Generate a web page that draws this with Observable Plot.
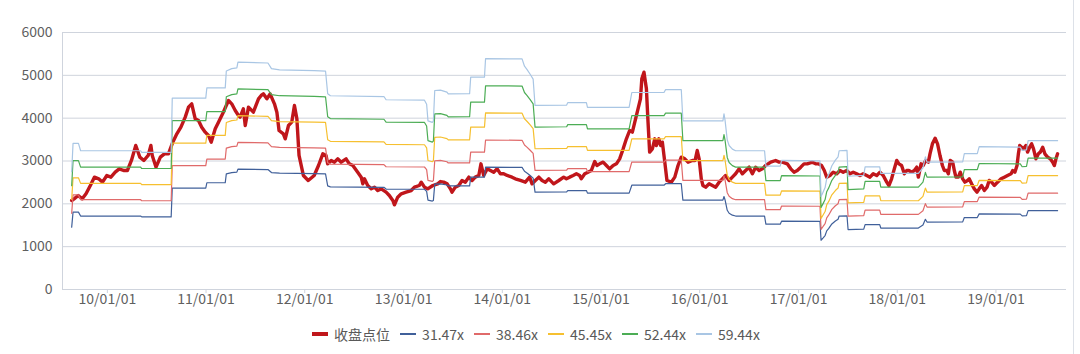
<!DOCTYPE html>
<html><head><meta charset="utf-8">
<script src="https://cdn.jsdelivr.net/npm/d3@7"></script>
<script src="https://cdn.jsdelivr.net/npm/@observablehq/plot@0.6"></script>
<style>
body{margin:0;background:#fff;font-family:"Noto Sans CJK SC","Noto Sans",sans-serif;}
#wrap{position:relative;width:1080px;height:354px;overflow:hidden;}
#edge{position:absolute;left:1073px;top:0;width:1px;height:354px;background:#dde1e8;}
.legend{display:flex;justify-content:center;align-items:center;gap:10px;font-size:14px;color:#595959;margin-top:11px;height:22px;padding-right:8px;}
.item{display:flex;align-items:center;gap:6px;}
.sw{display:inline-block;width:16px;}
</style></head><body><div id="wrap"><div id="chart"></div><div id="edge"></div></div>
<script>
const closeLabel = "收盘点位";
const closeColor = "#c0161b";
const closeDates = ["2009-08-22","2009-08-31","2009-09-15","2009-09-30","2009-10-14","2009-10-30","2009-11-14","2009-11-30","2009-12-14","2009-12-30",
"2010-01-14","2010-01-30","2010-02-14","2010-03-02","2010-03-16","2010-03-31","2010-04-16","2010-05-01","2010-05-16","2010-06-01","2010-06-11","2010-06-16","2010-06-30","2010-07-16","2010-07-31","2010-08-15","2010-08-31","2010-09-15","2010-09-30","2010-10-16","2010-10-28","2010-11-09","2010-11-22","2010-12-04","2010-12-16","2010-12-29",
"2011-01-10","2011-01-20","2011-02-04","2011-02-16","2011-03-06","2011-03-25","2011-04-06","2011-04-19","2011-05-01","2011-05-07","2011-05-19","2011-05-26","2011-06-07","2011-06-25","2011-07-14","2011-07-24","2011-08-01","2011-08-14","2011-08-26","2011-09-11","2011-09-20","2011-09-28","2011-10-14","2011-10-21","2011-11-02","2011-11-14","2011-11-24","2011-12-03","2011-12-11","2011-12-27",
"2012-01-14","2012-02-05","2012-02-21","2012-03-08","2012-03-20","2012-03-26","2012-04-08","2012-04-20","2012-05-02","2012-05-15","2012-06-02","2012-06-14","2012-06-27","2012-07-15","2012-07-28","2012-08-03","2012-08-09","2012-08-21","2012-09-03","2012-09-15","2012-09-27","2012-10-10","2012-10-28","2012-11-09","2012-11-22","2012-11-28","2012-12-10","2012-12-23",
"2013-01-10","2013-01-29","2013-02-10","2013-02-28","2013-03-07","2013-03-19","2013-03-31","2013-04-19","2013-05-07","2013-05-17","2013-05-29","2013-06-11","2013-06-23","2013-06-29","2013-07-11","2013-07-24","2013-08-05","2013-08-17","2013-08-30","2013-09-11","2013-09-23","2013-10-06","2013-10-14","2013-10-24","2013-11-06","2013-11-18","2013-11-30","2013-12-13","2013-12-25",
"2014-01-06","2014-01-19","2014-02-06","2014-02-18","2014-03-09","2014-03-27","2014-04-12","2014-04-21","2014-05-03","2014-05-16","2014-05-28","2014-06-09","2014-06-22","2014-07-10","2014-07-29","2014-08-16","2014-08-26","2014-09-07","2014-09-20","2014-10-02","2014-10-14","2014-10-20","2014-11-02","2014-11-14","2014-11-26","2014-12-09","2014-12-17","2014-12-27",
"2015-01-09","2015-01-21","2015-02-02","2015-02-15","2015-02-27","2015-03-11","2015-03-24","2015-04-05","2015-04-17","2015-04-27","2015-05-06","2015-05-18","2015-05-27","2015-06-01","2015-06-09","2015-06-18","2015-06-24","2015-06-30","2015-07-10","2015-07-19","2015-07-25","2015-08-03","2015-08-10","2015-08-16","2015-08-25","2015-09-02","2015-09-18","2015-10-01","2015-10-13","2015-10-25","2015-11-07","2015-11-19","2015-12-05","2015-12-15","2015-12-23","2015-12-30",
"2016-01-07","2016-01-13","2016-01-23","2016-02-05","2016-02-17","2016-02-29","2016-03-13","2016-03-25","2016-04-06","2016-04-19","2016-05-01","2016-05-13","2016-05-26","2016-06-07","2016-06-19","2016-07-02","2016-07-14","2016-07-26","2016-08-08","2016-08-20","2016-09-01","2016-09-20","2016-10-08","2016-10-21","2016-11-02","2016-11-20","2016-12-03","2016-12-15","2016-12-27",
"2017-01-09","2017-01-21","2017-02-02","2017-02-21","2017-03-05","2017-03-15","2017-03-27","2017-04-06","2017-04-15","2017-04-27","2017-05-09","2017-05-22","2017-06-03","2017-06-15","2017-06-28","2017-07-10","2017-07-22","2017-08-04","2017-08-16","2017-08-28","2017-09-10","2017-09-22","2017-10-04","2017-10-17","2017-10-29","2017-11-10","2017-11-23","2017-12-01","2017-12-11","2017-12-21","2017-12-30",
"2018-01-07","2018-01-17","2018-01-27","2018-02-05","2018-02-13","2018-02-23","2018-03-05","2018-03-14","2018-03-20","2018-03-30","2018-04-07","2018-04-16","2018-04-26","2018-05-02","2018-05-11","2018-05-21","2018-05-30","2018-06-08","2018-06-17","2018-06-24","2018-07-04","2018-07-09","2018-07-16","2018-07-25","2018-07-31","2018-08-06","2018-08-15","2018-08-22","2018-08-31","2018-09-08","2018-09-18","2018-09-24","2018-10-03","2018-10-13","2018-10-23","2018-10-31","2018-11-09","2018-11-19","2018-11-29","2018-12-07","2018-12-16","2018-12-26",
"2019-01-07","2019-01-20","2019-02-01","2019-02-13","2019-02-26","2019-03-04","2019-03-12","2019-03-20","2019-03-25","2019-03-30","2019-04-06","2019-04-13","2019-04-22","2019-04-28","2019-05-06","2019-05-13","2019-05-20","2019-05-29","2019-06-07","2019-06-14","2019-06-23","2019-07-01","2019-07-11","2019-07-21","2019-07-30","2019-08-05","2019-08-11","2019-08-17"];
const closeValues = [2078,2117,2195,2117,2234,2428,2623,2584,2506,2662,
2623,2739,2817,2778,2778,3012,3362,3090,3012,3129,3362,3129,2856,3090,3167,3167,3440,3634,3790,4024,4257,4335,3985,3946,3790,3673,
3596,3440,3751,3907,4140,4413,4335,4179,4063,4024,4218,3829,4257,4140,4452,4530,4568,4452,4568,4335,4140,3712,3634,3518,3829,3907,4296,3985,3129,2662,
2545,2662,2895,3167,3129,2934,3012,2973,3051,2973,3051,2934,2895,2739,2623,2467,2584,2428,2350,2389,2311,2350,2273,2195,2078,1977,2156,2234,
2273,2311,2389,2428,2506,2389,2350,2428,2467,2520,2506,2467,2350,2273,2389,2428,2545,2506,2623,2545,2623,2662,2934,2662,2817,2778,2739,2817,2701,
2701,2662,2623,2584,2545,2506,2623,2467,2545,2623,2545,2506,2584,2467,2545,2623,2584,2623,2662,2701,2662,2584,2701,2739,2778,2989,2895,2934,
2973,2895,2817,2895,2934,3051,3284,3518,3712,3673,3907,4218,4452,4919,5074,4685,3907,3207,3284,3518,3362,3518,3362,3440,2973,2545,2506,2623,2895,3090,3051,2973,3012,3012,3245,3051,
2584,2428,2389,2467,2428,2389,2506,2584,2662,2545,2623,2701,2817,2701,2778,2856,2701,2856,2778,2817,2895,2973,3012,2973,2973,2934,2817,2739,2778,
2856,2934,2934,2973,2934,2934,2895,2778,2623,2662,2739,2701,2778,2739,2778,2701,2739,2701,2662,2701,2662,2623,2701,2662,2739,2662,2506,2428,2584,2817,3012,
2934,2895,2701,2778,2778,2739,2778,2856,2623,2934,2895,3012,2973,3167,3401,3533,3401,3129,2895,2778,2778,2701,3012,2973,2778,2623,2623,2739,2584,2506,2545,2584,2467,2350,2273,2350,2428,2311,2389,2545,2506,2428,
2506,2584,2623,2662,2701,2778,2739,2895,3167,3362,3323,3284,3362,3207,3323,3401,3284,3051,3167,3207,3323,3167,3090,3051,2973,2895,3051,3167];

const epsDates = ["2009-08-22","2009-08-27","2009-09-16","2009-09-24","2010-05-04","2010-05-08","2010-08-25","2010-08-29","2010-12-31","2011-01-04","2011-03-13","2011-03-17","2011-04-06","2011-04-25","2011-04-29","2011-08-18","2011-08-31","2011-09-30","2012-02-05","2012-03-18","2012-03-26","2012-04-05","2012-10-20","2012-10-28","2013-03-19","2013-03-27","2013-04-01","2013-04-17","2013-04-21","2013-04-26","2013-05-17","2013-06-10","2013-06-15","2013-09-02","2013-09-06","2013-10-27","2013-10-31","2014-03-15","2014-03-24","2014-04-02","2014-04-14","2014-04-25","2014-05-02","2014-08-27","2014-08-31","2014-11-08","2014-11-12","2015-04-15","2015-04-25","2015-08-22","2015-08-28","2015-10-25","2015-10-31","2016-03-27","2016-03-31","2016-04-04","2016-04-12","2016-04-19","2016-05-01","2016-05-13","2016-08-28","2016-09-02","2016-10-25","2016-10-30","2017-03-21","2017-03-25","2017-04-01","2017-04-09","2017-04-15","2017-04-22","2017-05-04","2017-05-17","2017-05-27","2017-05-31","2017-06-29","2017-07-03","2017-08-30","2017-09-04","2017-10-28","2017-11-01","2018-03-20","2018-04-06","2018-04-15","2018-04-21","2018-08-31","2018-09-06","2018-10-24","2018-10-31","2019-04-01","2019-04-08","2019-04-24","2019-04-30","2019-08-17"];
const epsValues = [46.24,57.39,57.39,54.50,54.50,53.86,53.86,75.15,75.15,79.19,79.19,85.80,86.75,87.07,89.29,88.97,86.75,86.27,85.95,85.80,76.90,76.10,75.79,74.52,74.36,72.77,66.25,65.62,66.10,78.17,78.33,77.53,76.83,76.90,83.41,83.41,90.72,90.56,87.70,86.43,84.53,82.62,72.29,72.45,73.40,73.40,71.50,71.50,77.38,77.38,78.49,78.49,66.25,66.25,68.96,66.41,58.79,56.56,55.13,54.50,54.50,48.46,48.46,50.68,50.52,36.54,38.13,40.04,43.53,45.12,48.62,50.84,52.11,54.50,54.66,44.49,44.80,48.14,48.14,45.60,45.60,47.82,52.11,50.05,50.14,53.38,53.38,56.09,55.93,54.66,54.81,58.47,58.47];

const multiples = [31.47, 38.46, 45.45, 52.44, 59.44];
const bandLabels = ["31.47x","38.46x","45.45x","52.44x","59.44x"];
const bandColors = ["#40609a","#e06a6a","#f6c030","#4cad55","#a9c6e4"];
const yTicks = [0,1000,2000,3000,4000,5000,6000];
const xTicks = ["2010-01-01","2011-01-01","2012-01-01","2013-01-01","2014-01-01","2015-01-01","2016-01-01","2017-01-01","2018-01-01","2019-01-01"];
const xDomain = ["2009-07-19","2019-09-19"];

const closeData = closeDates.map((d,i)=>({date:new Date(d), value:closeValues[i]}));
const bandData = multiples.flatMap((m,k)=>epsDates.map((d,i)=>({date:new Date(d), value:epsValues[i]*m, series:bandLabels[k]})));
const grid = "#cfd4dd";
const dom = xDomain.map(d=>new Date(d));

const chart = Plot.plot({
  width:1080, height:312,
  marginLeft:62, marginRight:14, marginTop:32, marginBottom:23,
  style:{fontSize:"14px", color:"#5f5f5f", fontFamily:'"Noto Sans CJK SC","Noto Sans",sans-serif', background:"transparent"},
  x:{type:"utc", domain:dom},
  y:{domain:[0,6000]},
  color:{domain:bandLabels, range:bandColors},
  marks:[
    Plot.gridY(yTicks,{stroke:grid, strokeOpacity:1}),
    Plot.ruleX([dom[0]],{y1:0, y2:6000, stroke:grid}),
    Plot.ruleY([0],{stroke:grid}),
    Plot.axisY(yTicks,{tickSize:0, tickPadding:10, label:null, tickFormat:d=>String(d)}),
    Plot.axisX(xTicks.map(d=>new Date(d)),{tickSize:4, tickPadding:1, stroke:grid, tickFormat:d3.utcFormat("%y/%m/%d"), label:null}),
    Plot.lineY(closeData,{x:"date", y:"value", stroke:closeColor, strokeWidth:3.4, strokeLinejoin:"round"}),
    Plot.lineY(bandData,{x:"date", y:"value", z:"series", stroke:"series", strokeWidth:1.2})
  ]
});
document.getElementById("chart").appendChild(chart);

const leg = document.createElement("div");
leg.className = "legend";
const items = [{label:closeLabel, color:closeColor, w:4}].concat(bandLabels.map((l,i)=>({label:l, color:bandColors[i], w:1.5})));
for (const it of items) {
  const e = document.createElement("span"); e.className = "item";
  const s = document.createElement("span"); s.className = "sw";
  s.style.height = it.w + "px"; s.style.background = it.color;
  const t = document.createElement("span"); t.textContent = it.label;
  e.appendChild(s); e.appendChild(t); leg.appendChild(e);
}
document.getElementById("chart").appendChild(leg);
</script></body></html>
